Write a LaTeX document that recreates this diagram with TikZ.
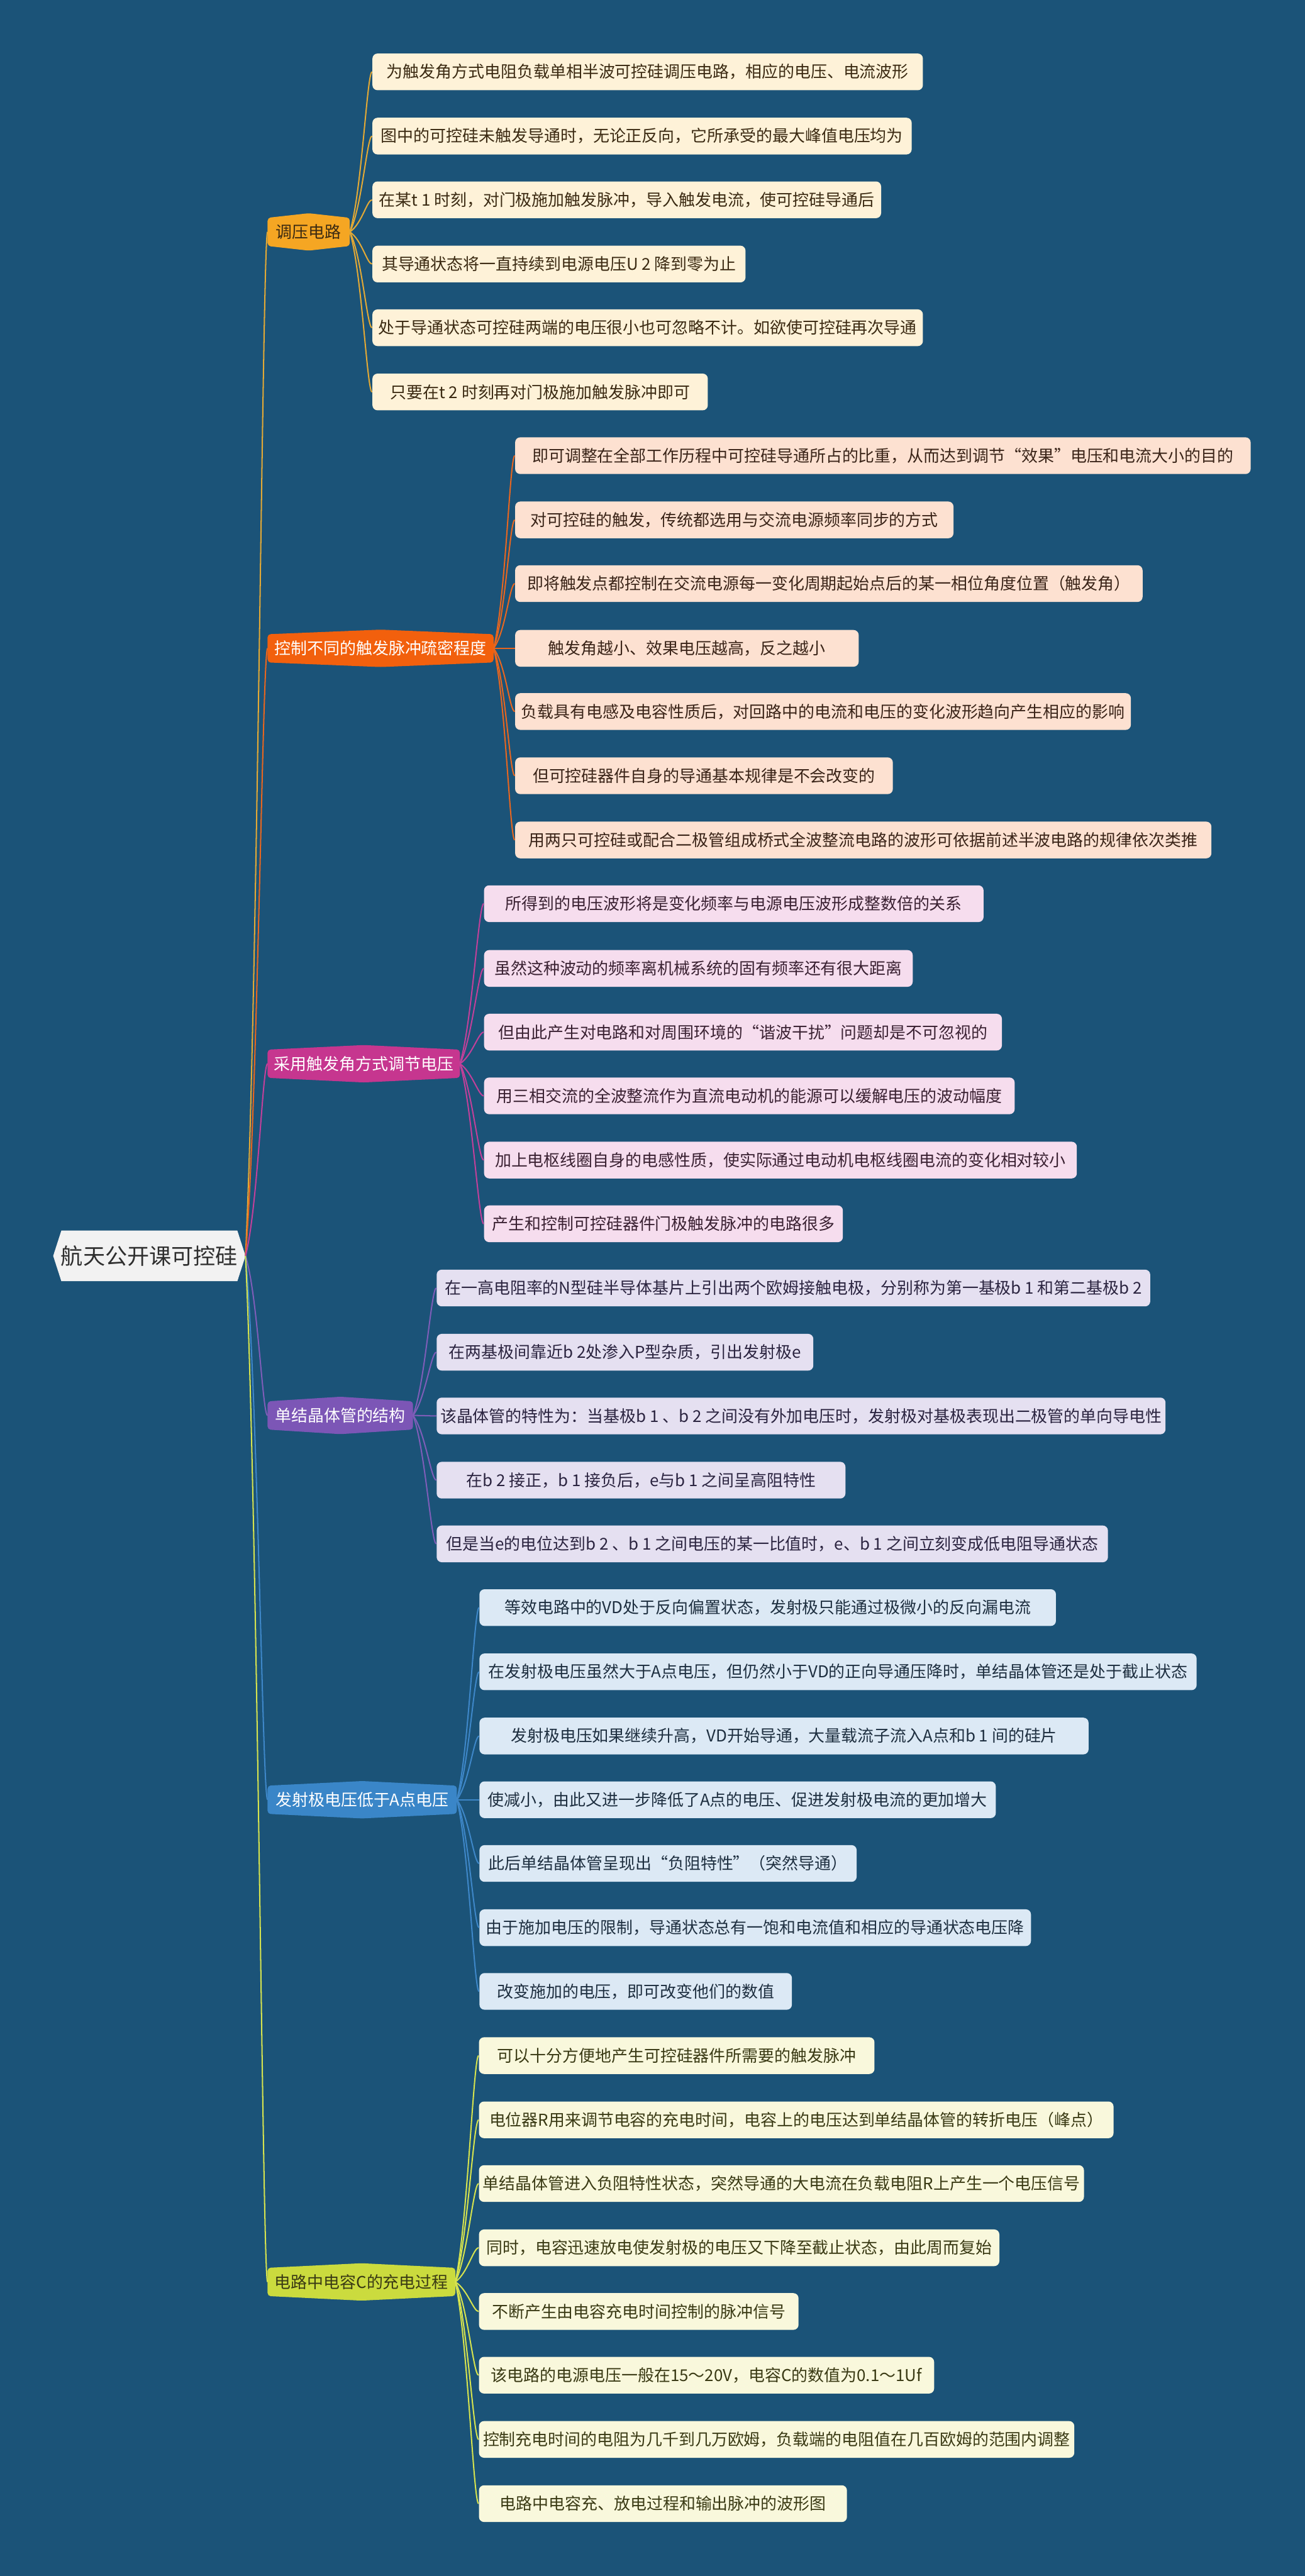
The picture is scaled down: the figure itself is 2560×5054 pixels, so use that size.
\documentclass[tikz,border=0pt]{standalone}
\usepackage{fontspec}
\setmainfont{Noto Sans CJK SC}
\usetikzlibrary{calc}
\pgfdeclarelayer{bgl}
\pgfdeclarelayer{shp}
\pgfsetlayers{bgl,shp,main}
\definecolor{bgc}{HTML}{1B5378}
\definecolor{rootfill}{HTML}{F2F2F2}
\definecolor{roottext}{HTML}{2E2E2E}
% branch 1
\definecolor{fa}{HTML}{F5A623}\definecolor{la}{HTML}{E3A935}\definecolor{ka}{HTML}{FEF2D8}\definecolor{ta}{HTML}{3B2A12}
% branch 2
\definecolor{fb}{HTML}{F2600D}\definecolor{lb}{HTML}{E8661F}\definecolor{kb}{HTML}{FDE1D1}\definecolor{tb}{HTML}{3A2418}
% branch 3
\definecolor{fc}{HTML}{C6368F}\definecolor{lc}{HTML}{C2409A}\definecolor{kc}{HTML}{F6DDEE}\definecolor{tc}{HTML}{3A2132}
% branch 4
\definecolor{fd}{HTML}{7C56B6}\definecolor{ld}{HTML}{7E5DB8}\definecolor{kd}{HTML}{E5E0F1}\definecolor{td}{HTML}{2B2440}
% branch 5
\definecolor{fe}{HTML}{3A86C8}\definecolor{le}{HTML}{3E87C8}\definecolor{ke}{HTML}{DCE9F5}\definecolor{te}{HTML}{1E2F40}
% branch 6
\definecolor{ff}{HTML}{CBDB3E}\definecolor{lf}{HTML}{D6E34E}\definecolor{kf}{HTML}{F9F8DC}\definecolor{tf}{HTML}{3A3A14}

\newcommand\lfont{\fontsize{9.6pt}{11.5pt}\selectfont}
\newcommand\brshape[2]{%
  \begin{pgfonlayer}{shp}
    \fill[#2, rounded corners=1.8pt] ($(#1.north west)+(0,9)$) -- (#1.north) -- ($(#1.north east)+(0,9)$) -- ($(#1.south east)+(0,-9)$) -- (#1.south) -- ($(#1.south west)+(0,-9)$) -- cycle;
  \end{pgfonlayer}}
\newcommand\lfnode[4]{%
  \node[leafbox,curleaf,anchor=west,minimum width={(#3-\lx)*0.3pt}] (#1) at (\lx,#2) {#4};
  \draw[conn,curline] (\bn.east) .. controls (\bx+25,{\by+0.25*(#2-\by)}) and (\lx-10,#2) .. (#1.west);}
\newcommand\rootconn[3]{%
  \draw[conn,draw=#3] (root.east) .. controls (506,{2464+0.25*(#2-2464)}) and (515,#2) .. (#1.west);}

\begin{document}
\begin{tikzpicture}[x=0.3pt,y=-0.3pt,
  conn/.style={line width=0.75pt},
  leafbox/.style={rounded corners=3pt, inner sep=0pt, minimum height=21.6pt, font=\lfont, align=center},
  brbox/.style={inner sep=0pt, minimum height=21.6pt, font=\lfont, anchor=west, align=center},
]
\begin{pgfonlayer}{bgl}
  \fill[bgc] (0,0) rectangle (2560,5054);
\end{pgfonlayer}
\useasboundingbox (0,0) rectangle (2560,5054);

% root
\node[font=\fontsize{13pt}{15pt}\selectfont, minimum width=112.8pt, minimum height=29.4pt, inner sep=0pt, text=roottext] (root) at (293,2464) {航天公开课可控硅};
\begin{pgfonlayer}{shp}
  \fill[rootfill] ($(root.north west)+(16,0)$) -- ($(root.north east)+(-16,0)$) -- (root.east) -- ($(root.south east)+(-16,0)$) -- ($(root.south west)+(16,0)$) -- (root.west) -- cycle;
\end{pgfonlayer}

% ---------------- branch 1
\node[brbox, minimum width=48pt, text=ta] (b1) at (525,455) {调压电路};
\brshape{b1}{fa}
\rootconn{b1}{455}{la}
\def\bn{b1}\def\by{455}\def\bx{685}\def\lx{730}
\tikzset{curleaf/.style={fill=ka,text=ta}, curline/.style={draw=la}}
\lfnode{a1}{141}{1810}{为触发角方式电阻负载单相半波可控硅调压电路，相应的电压、电流波形}
\lfnode{a2}{267}{1788}{图中的可控硅未触发导通时，无论正反向，它所承受的最大峰值电压均为}
\lfnode{a3}{392}{1728}{在某t 1 时刻，对门极施加触发脉冲，导入触发电流，使可控硅导通后}
\lfnode{a4}{518}{1462}{其导通状态将一直持续到电源电压U 2 降到零为止}
\lfnode{a5}{643}{1810}{处于导通状态可控硅两端的电压很小也可忽略不计。如欲使可控硅再次导通}
\lfnode{a6}{769}{1388}{只要在t 2 时刻再对门极施加触发脉冲即可}

% ---------------- branch 2
\node[brbox, minimum width=132.6pt, text=white] (b2) at (525,1272) {控制不同的触发脉冲疏密程度};
\brshape{b2}{fb}
\rootconn{b2}{1272}{lb}
\def\bn{b2}\def\by{1272}\def\bx{967}\def\lx{1010}
\tikzset{curleaf/.style={fill=kb,text=tb}, curline/.style={draw=lb}}
\lfnode{c1}{894}{2453}{即可调整在全部工作历程中可控硅导通所占的比重，从而达到调节“效果”电压和电流大小的目的}
\lfnode{c2}{1020}{1870}{对可控硅的触发，传统都选用与交流电源频率同步的方式}
\lfnode{c3}{1145}{2241}{即将触发点都控制在交流电源每一变化周期起始点后的某一相位角度位置（触发角）}
\lfnode{c4}{1272}{1684}{触发角越小、效果电压越高，反之越小}
\lfnode{c5}{1396}{2218}{负载具有电感及电容性质后，对回路中的电流和电压的变化波形趋向产生相应的影响}
\lfnode{c6}{1522}{1751}{但可控硅器件自身的导通基本规律是不会改变的}
\lfnode{c7}{1648}{2376}{用两只可控硅或配合二极管组成桥式全波整流电路的波形可依据前述半波电路的规律依次类推}

% ---------------- branch 3
\node[brbox, minimum width=112.8pt, text=white] (b3) at (525,2087) {采用触发角方式调节电压};
\brshape{b3}{fc}
\rootconn{b3}{2087}{lc}
\def\bn{b3}\def\by{2087}\def\bx{901}\def\lx{949}
\tikzset{curleaf/.style={fill=kc,text=tc}, curline/.style={draw=lc}}
\lfnode{d1}{1773}{1929}{所得到的电压波形将是变化频率与电源电压波形成整数倍的关系}
\lfnode{d2}{1900}{1790}{虽然这种波动的频率离机械系统的固有频率还有很大距离}
\lfnode{d3}{2025}{1965}{但由此产生对电路和对周围环境的“谐波干扰”问题却是不可忽视的}
\lfnode{d4}{2150}{1990}{用三相交流的全波整流作为直流电动机的能源可以缓解电压的波动幅度}
\lfnode{d5}{2276}{2112}{加上电枢线圈自身的电感性质，使实际通过电动机电枢线圈电流的变化相对较小}
\lfnode{d6}{2401}{1653}{产生和控制可控硅器件门极触发脉冲的电路很多}

% ---------------- branch 4
\node[brbox, minimum width=85.2pt, text=white] (b4) at (525,2777) {单结晶体管的结构};
\brshape{b4}{fd}
\rootconn{b4}{2777}{ld}
\def\bn{b4}\def\by{2777}\def\bx{809}\def\lx{856}
\tikzset{curleaf/.style={fill=kd,text=td}, curline/.style={draw=ld}}
\lfnode{g1}{2527}{2256}{在一高电阻率的N型硅半导体基片上引出两个欧姆接触电极，分别称为第一基极b 1 和第二基极b 2}
\lfnode{g2}{2653}{1595}{在两基极间靠近b 2处渗入P型杂质，引出发射极e}
\lfnode{g3}{2778}{2286}{该晶体管的特性为：当基极b 1 、b 2 之间没有外加电压时，发射极对基极表现出二极管的单向导电性}
\lfnode{g4}{2904}{1658}{在b 2 接正，b 1 接负后，e与b 1 之间呈高阻特性}
\lfnode{g5}{3029}{2173}{但是当e的电位达到b 2 、b 1 之间电压的某一比值时，e、b 1 之间立刻变成低电阻导通状态}

% ---------------- branch 5
\node[brbox, minimum width=111pt, text=white] (b5) at (525,3531) {发射极电压低于A点电压};
\brshape{b5}{fe}
\rootconn{b5}{3531}{le}
\def\bn{b5}\def\by{3531}\def\bx{895}\def\lx{940}
\tikzset{curleaf/.style={fill=ke,text=te}, curline/.style={draw=le}}
\lfnode{h1}{3154}{2071}{等效电路中的VD处于反向偏置状态，发射极只能通过极微小的反向漏电流}
\lfnode{h2}{3280}{2347}{在发射极电压虽然大于A点电压，但仍然小于VD的正向导通压降时，单结晶体管还是处于截止状态}
\lfnode{h3}{3406}{2135}{发射极电压如果继续升高，VD开始导通，大量载流子流入A点和b 1 间的硅片}
\lfnode{h4}{3531}{1953}{使减小，由此又进一步降低了A点的电压、促进发射极电流的更加增大}
\lfnode{h5}{3656}{1680}{此后单结晶体管呈现出“负阻特性”（突然导通）}
\lfnode{h6}{3782}{2022}{由于施加电压的限制，导通状态总有一饱和电流值和相应的导通状态电压降}
\lfnode{h7}{3907}{1553}{改变施加的电压，即可改变他们的数值}

% ---------------- branch 6
\node[brbox, minimum width=110.1pt, text=tf] (b6) at (525,4477) {电路中电容C的充电过程};
\brshape{b6}{ff}
\rootconn{b6}{4477}{lf}
\def\bn{b6}\def\by{4477}\def\bx{892}\def\lx{939}
\tikzset{curleaf/.style={fill=kf,text=tf}, curline/.style={draw=lf}}
\lfnode{k1}{4033}{1715}{可以十分方便地产生可控硅器件所需要的触发脉冲}
\lfnode{k2}{4159}{2184}{电位器R用来调节电容的充电时间，电容上的电压达到单结晶体管的转折电压（峰点）}
\lfnode{k3}{4284}{2126}{单结晶体管进入负阻特性状态，突然导通的大电流在负载电阻R上产生一个电压信号}
\lfnode{k4}{4410}{1960}{同时，电容迅速放电使发射极的电压又下降至截止状态，由此周而复始}
\lfnode{k5}{4535}{1566}{不断产生由电容充电时间控制的脉冲信号}
\lfnode{k6}{4660}{1832}{该电路的电源电压一般在15～20V，电容C的数值为0.1～1Uf}
\lfnode{k7}{4786}{2107}{控制充电时间的电阻为几千到几万欧姆，负载端的电阻值在几百欧姆的范围内调整}
\lfnode{k8}{4912}{1661}{电路中电容充、放电过程和输出脉冲的波形图}
\end{tikzpicture}
\end{document}
